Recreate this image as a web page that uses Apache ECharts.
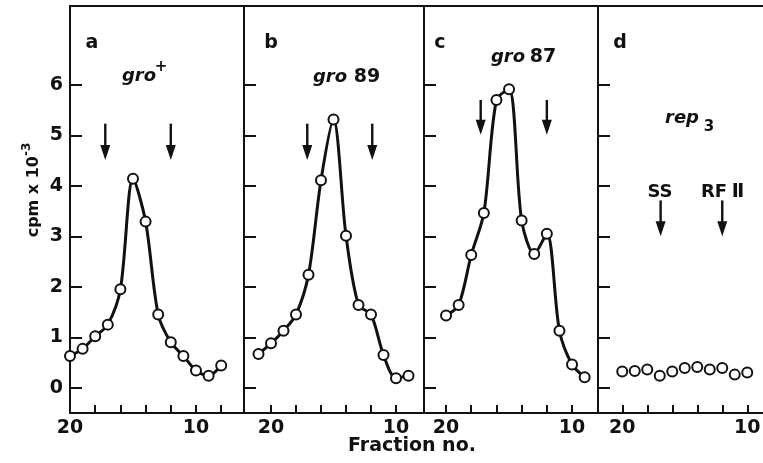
<!DOCTYPE html>
<html><head><meta charset="utf-8">
<script src="https://cdn.jsdelivr.net/npm/echarts@6/dist/echarts.min.js"></script>
<style>html,body{margin:0;padding:0;background:#fff;overflow:hidden}#c{width:763px;height:463px}</style>
</head><body><div id="c"></div><script>
// ---- data ----
const fractionsA = [20,19,18,17,16,15,14,13,12,11,10,9,8];
const cpmA = [0.63,0.77,1.02,1.25,1.95,4.14,3.29,1.45,0.90,0.63,0.34,0.24,0.44];
const fractionsB = [21,20,19,18,17,16,15,14,13,12,11,10,9];
const cpmB = [0.67,0.88,1.13,1.45,2.24,4.11,5.31,3.01,1.64,1.45,0.65,0.19,0.24];
const fractionsC = [20,19,18,17,16,15,14,13,12,11,10,9];
const cpmC = [1.43,1.64,2.63,3.46,5.70,5.91,3.31,2.65,3.05,1.13,0.46,0.21];
const fractionsD = [20,19,18,17,16,15,14,13,12,11,10];
const cpmD = [0.32,0.33,0.36,0.24,0.32,0.39,0.41,0.36,0.39,0.26,0.30];

// arrow positions (fraction) and their top / tip heights (cpm x 10^-3)
const arrowsA = [17.2, 12.0];
const arrowsB = [17.1, 11.9];
const arrowsC = [17.25, 12.0];
const arrowsD = [16.93, 12.0];
const arrowYA = [5.23, 4.51];
const arrowYB = [5.23, 4.51];
const arrowYC = [5.70, 5.01];
const arrowYD = [3.71, 3.00];

const yTicks = [0,1,2,3,4,5,6];
const xTicksA = [20,18,16,14,12,10,8];
const xTicksOther = [20,18,16,14,12,10];
const xLabels = [20,10];

// ---- layout ----
const FONT = 'DejaVu Sans';
const INK = '#111';
const panels = [
  {x: fractionsA, y: cpmA, ar: arrowsA, ay: arrowYA, xt: xTicksA, left: 70, width: 174, xmin: 6.19, xmax: 20.0, line: true},
  {x: fractionsB, y: cpmB, ar: arrowsB, ay: arrowYB, xt: xTicksOther, left: 244, width: 180, xmin: 7.76, xmax: 22.16, line: true},
  {x: fractionsC, y: cpmC, ar: arrowsC, ay: arrowYC, xt: xTicksOther, left: 424, width: 174, xmin: 7.94, xmax: 21.75, line: true},
  {x: fractionsD, y: cpmD, ar: arrowsD, ay: arrowYD, xt: xTicksOther, left: 598, width: 168, xmin: 8.5, xmax: 21.94, line: false}
];

const grid = [], xAxis = [], yAxis = [], series = [];
const axisLineStyle = {color: INK, width: 2};
panels.forEach((p, i) => {
  grid.push({left: p.left, top: 6, width: p.width, height: 407, show: false, containLabel: false, outerBoundsMode: 'none'});
  // bottom axis (index i)
  xAxis[i] = {
    gridIndex: i, type: 'value', inverse: true, min: p.xmin, max: p.xmax, position: 'bottom',
    axisLine: {show: true, onZero: false, lineStyle: axisLineStyle}, splitLine: {show: false},
    axisTick: {show: true, inside: true, length: 8, customValues: p.xt, lineStyle: {color: INK, width: 2}},
    axisLabel: {show: true, customValues: xLabels, margin: 6, color: INK, fontSize: 19, fontFamily: FONT, fontWeight: 'bold'}
  };
  // top frame line (index i + 4)
  xAxis[i + 4] = {
    gridIndex: i, type: 'value', inverse: true, min: p.xmin, max: p.xmax, position: 'top',
    axisLine: {show: true, onZero: false, lineStyle: axisLineStyle}, splitLine: {show: false},
    axisTick: {show: false}, axisLabel: {show: false}
  };
  yAxis.push({
    gridIndex: i, type: 'value', min: -0.5, max: 7.56, position: 'left',
    axisLine: {show: true, onZero: false, lineStyle: axisLineStyle}, splitLine: {show: false},
    axisTick: {show: true, inside: true, length: 12, customValues: yTicks, lineStyle: {color: INK, width: 2}},
    axisLabel: {show: i === 0, customValues: yTicks, margin: 7, color: INK, fontSize: 19, fontFamily: FONT, fontWeight: 'bold'}
  });
  series.push({
    type: 'line', xAxisIndex: i, yAxisIndex: i,
    data: p.x.map((f, k) => [f, p.y[k]]),
    smooth: 0.3,
    symbol: 'circle', symbolSize: 10, showAllSymbol: true,
    lineStyle: {color: INK, width: p.line ? 3 : 0, opacity: p.line ? 1 : 0},
    itemStyle: {color: '#fff', borderColor: INK, borderWidth: 2},
    z: 3, animation: false
  });
  series.push({
    type: 'custom', xAxisIndex: i, yAxisIndex: i, silent: true, animation: false,
    data: p.ar.map(a => [a, p.ay[0], p.ay[1]]),
    renderItem: function (params, api) {
      const top = api.coord([api.value(0), api.value(1)]);
      const tip = api.coord([api.value(0), api.value(2)]);
      const hx = tip[0], hy = tip[1], hh = 15, hw = 5;
      return {type: 'group', children: [
        {type: 'line', shape: {x1: top[0], y1: top[1], x2: hx, y2: hy - hh + 2}, style: {stroke: INK, lineWidth: 2.4}},
        {type: 'polygon', shape: {points: [[hx - hw, hy - hh], [hx + hw, hy - hh], [hx, hy]]}, style: {fill: INK}}
      ]};
    }
  });
});

const txt = (x, y, text, size, extra) => Object.assign({
  type: 'text', x: x, y: y,
  style: Object.assign({text: text, fill: INK, fontSize: size, fontFamily: FONT, fontWeight: 'bold', align: 'center', verticalAlign: 'middle'}, extra || {})
});

const graphic = [
  txt(92, 43, 'a', 19), txt(271, 43, 'b', 19), txt(440, 43, 'c', 19), txt(620, 43, 'd', 19),
  txt(139, 76, 'gro', 18, {fontStyle: 'italic'}), txt(161, 67, '+', 15),
  txt(330, 77, 'gro', 18, {fontStyle: 'italic'}), txt(367, 77, '89', 19),
  txt(508, 57, 'gro', 18, {fontStyle: 'italic'}), txt(543, 57, '87', 19),
  txt(682, 118, 'rep', 18, {fontStyle: 'italic'}), txt(709, 127, '3', 15),
  txt(660, 192, 'SS', 18),
  txt(714, 192, 'RF', 18), txt(738, 192, 'Ⅱ', 19),
  txt(412, 446, 'Fraction no.', 19),
  {type: 'text', x: 31, y: 190, rotation: Math.PI / 2,
   style: {text: '{a|cpm x 10}{s|-3}', fill: INK, align: 'center', verticalAlign: 'middle',
     rich: {a: {fontSize: 16, fontFamily: FONT, fontWeight: 'bold', fill: INK, verticalAlign: 'bottom'},
            s: {fontSize: 12, fontFamily: FONT, fontWeight: 'bold', fill: INK, padding: [0, 0, 9, 0], verticalAlign: 'bottom'}}}}
];

const chart = echarts.init(document.getElementById('c'), null, {renderer: 'canvas'});
chart.setOption({animation: false, backgroundColor: '#fff', grid, xAxis, yAxis, series, graphic});
</script></body></html>
